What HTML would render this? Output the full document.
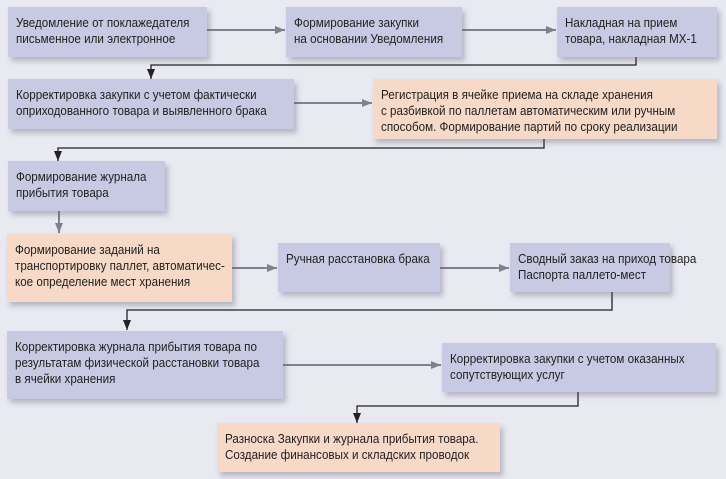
<!DOCTYPE html>
<html><head><meta charset="utf-8"><style>
body{margin:0;width:726px;height:479px;background:#e8e9f1;position:relative;overflow:hidden;font-family:"Liberation Sans",sans-serif;}
.b{position:absolute;box-sizing:border-box;background:#c8c9e3;box-shadow:3px 4px 5px rgba(90,90,110,0.35);font-size:12.5px;line-height:16px;color:#222;padding:8px 0 0 8px;white-space:nowrap;}
.b span{display:inline-block;transform:scaleX(0.93);transform-origin:0 0;}
.p{background:#f6d9c7;}
svg{position:absolute;left:0;top:0;}
</style></head><body>
<svg width="726" height="479">
<defs>
<marker id="g" markerWidth="10" markerHeight="8" refX="10" refY="4" orient="auto" markerUnits="userSpaceOnUse"><path d="M0,0 L10,4 L0,8 z" fill="#808090"/></marker>
<marker id="k" markerWidth="8" markerHeight="10" refX="4" refY="10" orient="0" markerUnits="userSpaceOnUse"><path d="M0,0 L8,0 L4,10 z" fill="#222"/></marker>
<marker id="kg" markerWidth="8" markerHeight="10" refX="4" refY="10" orient="0" markerUnits="userSpaceOnUse"><path d="M0,0 L8,0 L4,10 z" fill="#808090"/></marker>
</defs>
<g stroke="#808090" stroke-width="2" fill="none">
<line x1="207" y1="30" x2="285" y2="30" marker-end="url(#g)"/>
<line x1="462" y1="30" x2="556" y2="30" marker-end="url(#g)"/>
<line x1="294" y1="103" x2="372" y2="103" marker-end="url(#g)"/>
<line x1="59" y1="211" x2="59" y2="233" marker-end="url(#kg)"/>
<line x1="232" y1="268" x2="277" y2="268" marker-end="url(#g)"/>
<line x1="440" y1="268" x2="509" y2="268" marker-end="url(#g)"/>
<line x1="283" y1="365" x2="441" y2="365" marker-end="url(#g)"/>
</g>
<g stroke="#222" stroke-width="1.3" fill="none">
<polyline points="636,57 636,65 151,65 151,79" marker-end="url(#k)"/>
<polyline points="544,139 544,148 58,148 58,161" marker-end="url(#k)"/>
<polyline points="612,292 612,310 127,310 127,330" marker-end="url(#k)"/>
<polyline points="578,392 578,406 357,406 357,423" marker-end="url(#k)"/>
</g>
</svg>
<div class="b" style="left:8px;top:7px;width:199px;height:50px"><span>Уведомление от поклажедателя<br>письменное или электронное</span></div>
<div class="b" style="left:286px;top:7px;width:176px;height:50px"><span>Формирование закупки<br>на основании Уведомления</span></div>
<div class="b" style="left:557px;top:7px;width:160px;height:50px"><span>Накладная на прием<br>товара, накладная МХ-1</span></div>
<div class="b" style="left:8px;top:79px;width:286px;height:50px"><span>Корректировка закупки с учетом фактически<br>оприходованного товара и выявленного брака</span></div>
<div class="b p" style="left:373px;top:79px;width:344px;height:60px"><span>Регистрация в ячейке приема на складе хранения<br>с разбивкой по паллетам автоматическим или ручным<br>способом. Формирование партий по сроку реализации</span></div>
<div class="b" style="left:8px;top:161px;width:157px;height:50px"><span>Формирование журнала<br>прибытия товара</span></div>
<div class="b p" style="left:7px;top:234px;width:225px;height:68px"><span>Формирование заданий на<br>транспортировку паллет, автоматичес-<br>кое определение мест хранения</span></div>
<div class="b" style="left:278px;top:243px;width:162px;height:49px"><span>Ручная расстановка брака</span></div>
<div class="b" style="left:510px;top:243px;width:160px;height:49px"><span>Сводный заказ на приход товара<br>Паспорта паллето-мест</span></div>
<div class="b" style="left:7px;top:331px;width:276px;height:68px"><span>Корректировка журнала прибытия товара по<br>результатам физической расстановки товара<br>в ячейки хранения</span></div>
<div class="b" style="left:442px;top:343px;width:274px;height:49px"><span>Корректировка закупки с учетом оказанных<br>сопутствующих услуг</span></div>
<div class="b p" style="left:217px;top:423px;width:283px;height:49px"><span>Разноска Закупки и журнала прибытия товара.<br>Создание финансовых и складских проводок</span></div>
</body></html>
